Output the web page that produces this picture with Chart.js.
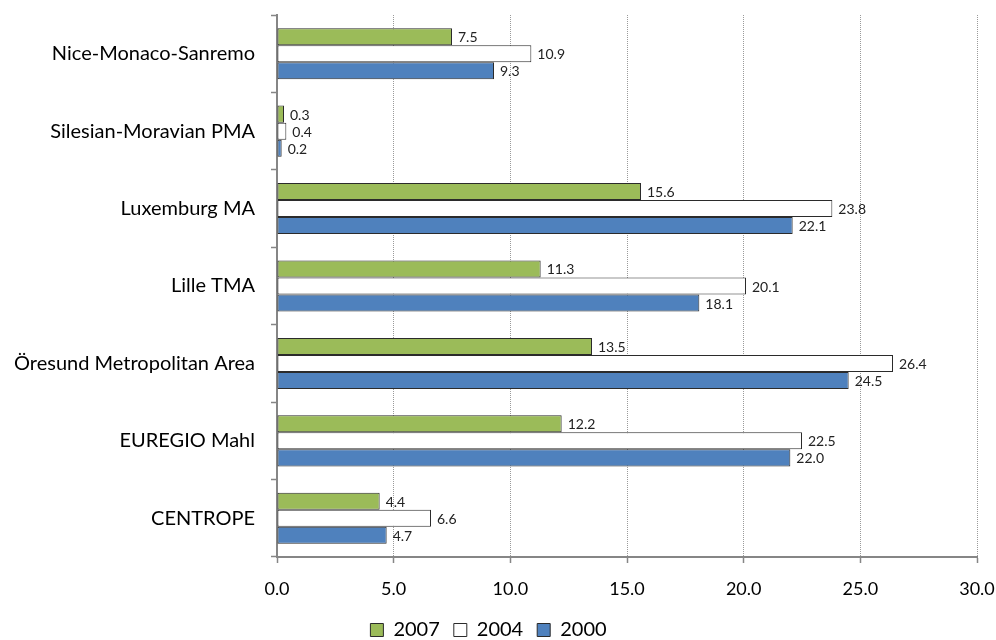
<!DOCTYPE html>
<html>
<head>
<meta charset="utf-8">
<script src="https://cdn.jsdelivr.net/npm/chart.js@4"></script>
<style>
  html, body { margin: 0; padding: 0; background: #fff; }
  #wrap { width: 996px; height: 640px; position: relative; }
</style>
</head>
<body>
<div id="wrap"><canvas id="barChart"></canvas></div>
<script>
// Regiões (de cima para baixo)
const regioes = ['Nice-Monaco-Sanremo', 'Silesian-Moravian PMA', 'Luxemburg MA', 'Lille TMA',
                 'Öresund Metropolitan Area', 'EUREGIO Mahl', 'CENTROPE'];
const anos = ['2007', '2004', '2000'];
const valores2007 = [7.5, 0.3, 15.6, 11.3, 13.5, 12.2, 4.4];
const valores2004 = [10.9, 0.4, 23.8, 20.1, 26.4, 22.5, 6.6];
const valores2000 = [9.3, 0.2, 22.1, 18.1, 24.5, 22.0, 4.7];
const ticksX = [0, 5, 10, 15, 20, 25, 30];

const fonte = 'Lato';
const cinzaEixo = '#868686';

// Escreve o valor ao lado de cada barra
const rotulosValores = {
    id: 'rotulosValores',
    afterDatasetsDraw(chart) {
        const ctx = chart.ctx;
        ctx.save();
        ctx.font = '14px ' + fonte;
        ctx.fillStyle = '#222';
        ctx.textBaseline = 'middle';
        ctx.textAlign = 'left';
        chart.data.datasets.forEach((ds, i) => {
            chart.getDatasetMeta(i).data.forEach((bar, j) => {
                ctx.fillText(ds.data[j].toFixed(1), bar.x + 6, bar.y + 1);
            });
        });
        ctx.restore();
    }
};

const ctx = document.getElementById('barChart').getContext('2d');
new Chart(ctx, {
    type: 'bar',
    data: {
        labels: regioes,
        datasets: [
            { label: anos[0], data: valores2007, backgroundColor: '#9BBB59', borderColor: '#2b2b2b', borderWidth: 1 },
            { label: anos[1], data: valores2004, backgroundColor: '#FFFFFF', borderColor: '#2b2b2b', borderWidth: 1 },
            { label: anos[2], data: valores2000, backgroundColor: '#4F81BD', borderColor: '#2b2b2b', borderWidth: 1 }
        ]
    },
    options: {
        indexAxis: 'y',
        responsive: true,
        maintainAspectRatio: false,
        animation: false,
        layout: { padding: { top: 15, right: 19, left: 0, bottom: -10 } },
        datasets: {
            bar: { categoryPercentage: 0.66, barPercentage: 1.0, borderSkipped: false }
        },
        plugins: {
            tooltip: { enabled: false },
            legend: {
                position: 'bottom',
                labels: {
                    boxWidth: 13,
                    boxHeight: 13,
                    color: '#000',
                    padding: 14,
                    font: { family: fonte, size: 20, lineHeight: 1 }
                }
            }
        },
        scales: {
            x: {
                min: 0,
                max: 30,
                afterBuildTicks: (scale) => { scale.ticks = ticksX.map(v => ({ value: v })); },
                afterFit: (scale) => {
                    scale.height = 49;
                    scale.paddingLeft = 0;
                    scale.paddingRight = 0;
                },
                ticks: {
                    color: '#000',
                    padding: 15,
                    font: { family: fonte, size: 18 },
                    callback: (v) => Number(v).toFixed(1)
                },
                grid: {
                    color: '#9a9a9a',
                    lineWidth: 1,
                    tickColor: cinzaEixo,
                    tickLength: 6,
                    tickWidth: 1.5,
                    tickBorderDash: []
                },
                border: { color: cinzaEixo, width: 2, dash: [1, 1] }
            },
            y: {
                afterFit: (scale) => {
                    scale.width = 277;
                    scale.paddingTop = 0;
                    scale.paddingBottom = 0;
                },
                ticks: {
                    color: '#000',
                    padding: 16,
                    font: { family: fonte, size: 20 }
                },
                grid: {
                    offset: true,
                    drawOnChartArea: false,
                    tickColor: cinzaEixo,
                    tickLength: 6,
                    tickWidth: 1.5
                },
                border: { color: cinzaEixo, width: 2 }
            }
        }
    },
    plugins: [rotulosValores]
});
</script>
</body>
</html>
